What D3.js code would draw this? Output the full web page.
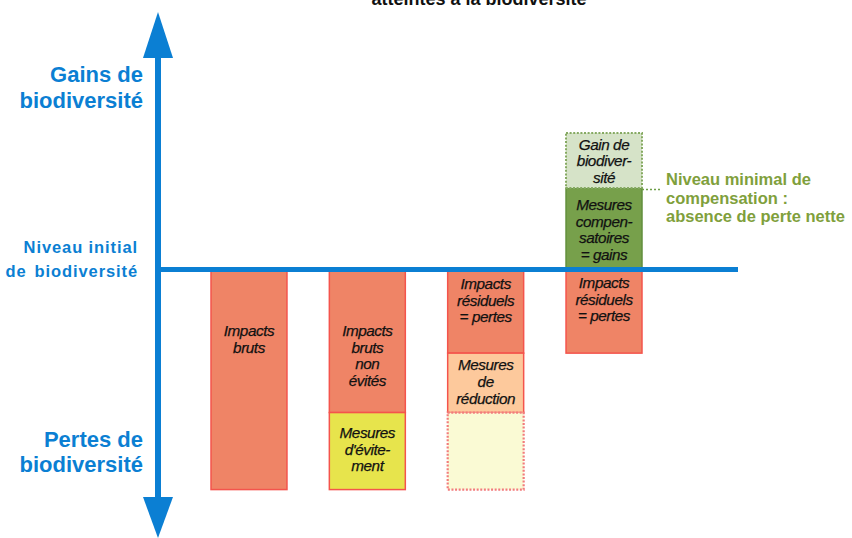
<!DOCTYPE html>
<html><head><meta charset="utf-8">
<script src="https://cdn.jsdelivr.net/npm/d3@7/dist/d3.min.js"></script>
<style>
html,body{margin:0;padding:0;background:#fff;}
svg{display:block;font-family:"Liberation Sans",Arial,sans-serif;}
</style></head>
<body>
<svg id="c" width="852" height="538"></svg>
<script>
// ---- data ----
const categories = ["Impacts bruts", "Évitement", "Réduction", "Compensation"];
const segCategory = [0, 1, 1, 2, 2, 2, 3, 3, 3];
const segFrom     = [0, 0, -65, 0, -38, -65, 0, 0, 37];
const segTo       = [-100, -65, -100, -38, -65, -100, -38, 37, 62];
const segKind     = ["impact","impact","evitement","impact","reduction","ghost","impact","compens","gain"];
const segLabels   = [
  ["Impacts","bruts"],
  ["Impacts","bruts","non","évités"],
  ["Mesures","d'évite-","ment"],
  ["Impacts","résiduels","= pertes"],
  ["Mesures","de","réduction"],
  [],
  ["Impacts","résiduels","= pertes"],
  ["Mesures","compen-","satoires","= gains"],
  ["Gain de","biodiver-","sité"]
];
const titleText = "atteintes à la biodiversité";
const levelNote = ["Niveau minimal de","compensation :","absence de perte nette"];

// ---- layout / styles ----
const labelOffset = [66.5, 66.5, 25.5, 19.5, 17, 0, 18.5, 22, 16.5];
const lineH = 16.7;
const styles = {
  impact:    {fill:"#ef8466", stroke:"#f4544c", dash:null, w:1.5},
  evitement: {fill:"#e7e44c", stroke:"#f4544c", dash:null, w:1.5},
  reduction: {fill:"#fdc99c", stroke:"#f4544c", dash:null, w:1.5},
  ghost:     {fill:"#fafad4", stroke:"#f27c7c", dash:"2,1.6", w:2.2},
  compens:   {fill:"#77a04b", stroke:"#628f3c", dash:null, w:1.5},
  gain:      {fill:"#d6e3c8", stroke:"#86aa62", dash:"2,1.6", w:2}
};
const blue = "#0b7fd3";

const svg = d3.select("#c");
const x = d3.scaleBand().domain(categories).range([211, 642]).paddingInner(0.358).paddingOuter(0);
const y = d3.scaleLinear().domain([-122, 117]).range([538, 12]);

// title
svg.append("text").attr("x", 479).attr("y", 5).attr("text-anchor","middle")
  .attr("font-size", 18).attr("font-weight","bold").attr("fill","#111").text(titleText);

// segments
const segs = segFrom.map((f,i)=>({cat:categories[segCategory[i]], from:f, to:segTo[i], kind:segKind[i], labels:segLabels[i], off:labelOffset[i]}));
const g = svg.append("g");
g.selectAll("rect").data(segs).join("rect")
  .attr("x", d=>x(d.cat))
  .attr("y", d=>y(Math.max(d.from,d.to)))
  .attr("width", x.bandwidth())
  .attr("height", d=>Math.abs(y(d.from)-y(d.to)))
  .attr("fill", d=>styles[d.kind].fill)
  .attr("stroke", d=>styles[d.kind].stroke)
  .attr("stroke-width", d=>styles[d.kind].w)
  .attr("stroke-dasharray", d=>styles[d.kind].dash);

segs.forEach(d=>{
  const top = y(Math.max(d.from,d.to));
  const t = g.append("text").attr("text-anchor","middle")
    .attr("font-size", 15.3).attr("font-style","italic").attr("fill","#111")
    .attr("stroke","#111").attr("stroke-width",0.25)
    .attr("letter-spacing","-0.45");
  d.labels.forEach((l,k)=>{
    t.append("tspan").attr("x", x(d.cat)+x.bandwidth()/2).attr("y", top + d.off + k*lineH).text(l);
  });
});

// minimal compensation level
const compCat = categories[3];
const lvl = y(37);
svg.append("line").attr("x1", x(compCat)+x.bandwidth()).attr("x2", 662)
  .attr("y1", lvl+1.5).attr("y2", lvl+1.5)
  .attr("stroke","#6e9e48").attr("stroke-width",1.5).attr("stroke-dasharray","2,2");
const nt = svg.append("text").attr("font-size",16.5).attr("font-weight","bold").attr("fill","#7fa03c");
levelNote.forEach((l,k)=>nt.append("tspan").attr("x",666).attr("y", lvl-3+k*18.5).text(l));

// baseline (initial level)
svg.append("line").attr("x1",158).attr("x2",738).attr("y1",y(0)).attr("y2",y(0))
  .attr("stroke",blue).attr("stroke-width",5);

// vertical axis with arrows
const ax = 158;
svg.append("line").attr("x1",ax).attr("x2",ax).attr("y1",y(117)+40).attr("y2",y(-122)-35)
  .attr("stroke",blue).attr("stroke-width",6);
svg.append("path").attr("d",`M${ax},${y(117)} L${ax+15},${y(117)+46} L${ax-15},${y(117)+46} Z`).attr("fill",blue);
svg.append("path").attr("d",`M${ax},${y(-122)} L${ax+15},${y(-122)-41} L${ax-15},${y(-122)-41} Z`).attr("fill",blue);

// axis labels
function lab(lines, ys, size, ls, xr){
  const t = svg.append("text").attr("text-anchor","end").attr("font-size",size)
    .attr("font-weight","bold").attr("fill",blue).attr("letter-spacing",ls);
  lines.forEach((l,k)=>{
    const parts = Array.isArray(l) ? l : [l];
    parts.forEach((p,j)=>{
      const ts = t.append("tspan").text(p);
      if (j===0) ts.attr("x",xr).attr("y",ys[k]); else ts.attr("dx",8);
    });
  });
}
lab(["Gains de","biodiversité"],[82,108],22,0,143);
lab(["Pertes de","biodiversité"],[447,472],22,0,143);
lab(["Niveau initial",["de","biodiversité"]],[253,277],16.5,0.9,138);
</script>
</body></html>
